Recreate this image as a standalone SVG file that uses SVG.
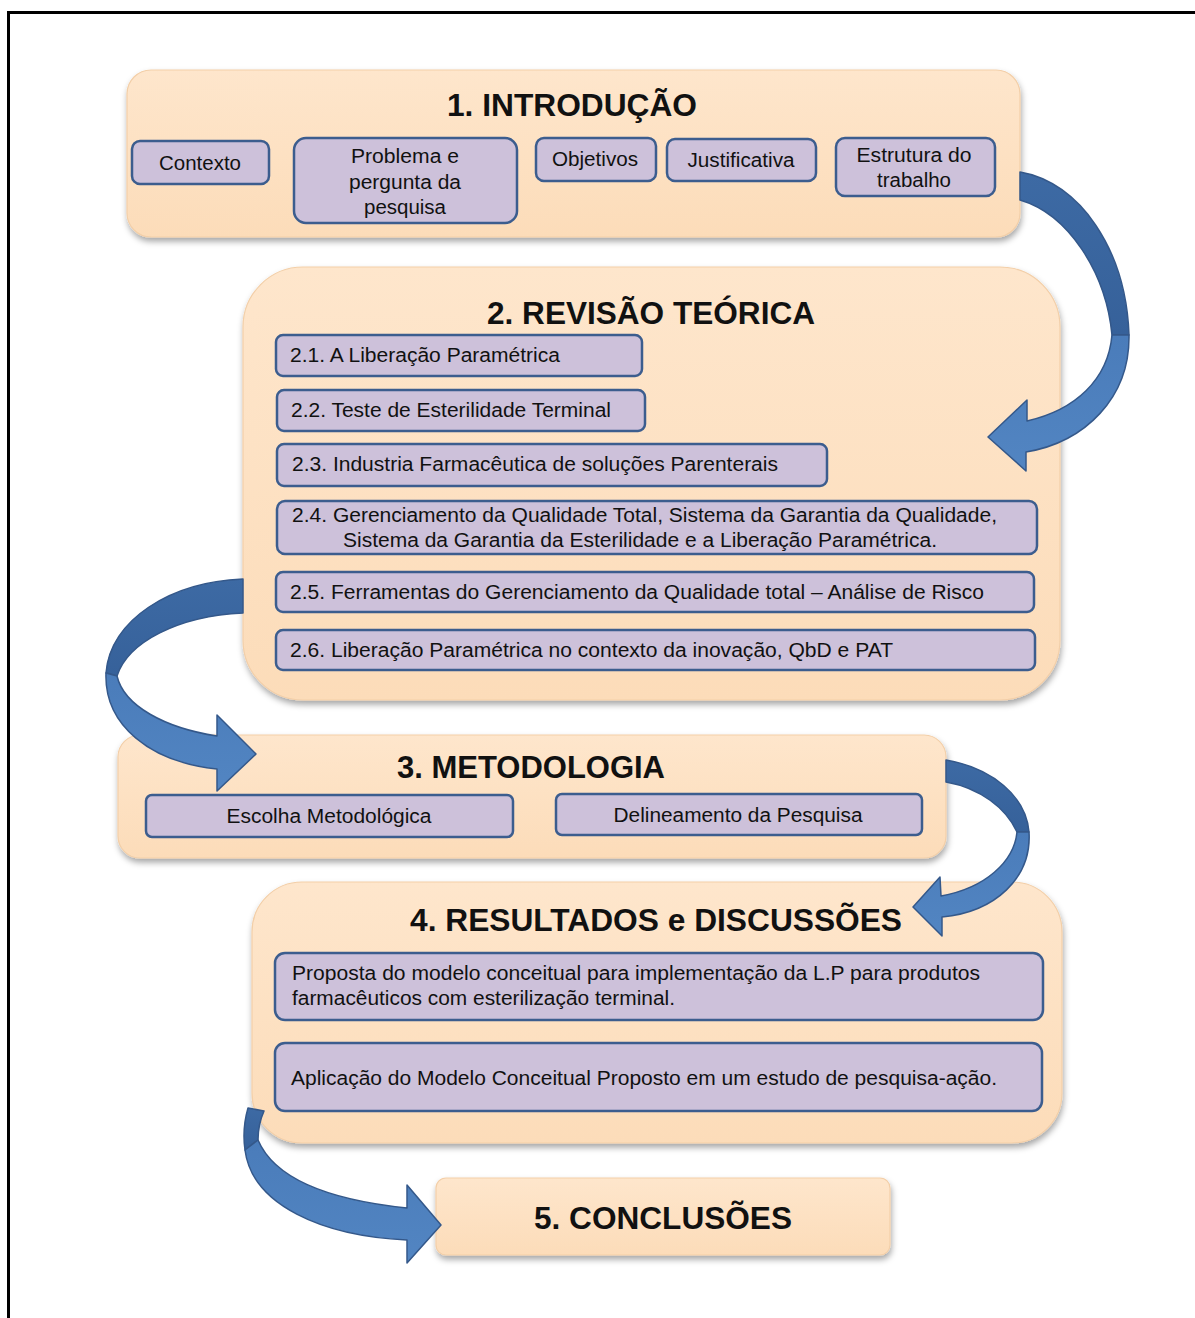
<svg xmlns="http://www.w3.org/2000/svg" width="1195" height="1318" viewBox="0 0 1195 1318">
<style>
.sec{fill:url(#peach);stroke:#f3cfa8;stroke-width:1.2;filter:url(#sh)}
.sub{fill:#cdc1da;stroke:#3c5d8e;stroke-width:2.5}
.t{font-family:"Liberation Sans",Arial,sans-serif;font-size:20px;fill:#111}
.h{font-family:"Liberation Sans",Arial,sans-serif;font-size:31px;font-weight:bold;fill:#111;text-anchor:middle}
.c{text-anchor:middle}
.dk{fill:url(#dark);stroke:#34588a;stroke-width:1.5;stroke-linejoin:round}
.lt{fill:url(#light);stroke:#34588a;stroke-width:1.5;stroke-linejoin:round}
</style>
<defs>
<linearGradient id="peach" x1="0" y1="0" x2="0" y2="1"><stop offset="0" stop-color="#fee6cc"/><stop offset="1" stop-color="#fcdcb9"/></linearGradient>
<linearGradient id="dark" x1="0" y1="0" x2="0" y2="1"><stop offset="0" stop-color="#3d6aa4"/><stop offset="1" stop-color="#36619a"/></linearGradient>
<linearGradient id="light" x1="0" y1="0" x2="0" y2="1"><stop offset="0" stop-color="#4a7cba"/><stop offset="1" stop-color="#5285c2"/></linearGradient>
<filter id="sh" x="-5%" y="-10%" width="110%" height="125%"><feDropShadow dx="1" dy="4" stdDeviation="3" flood-color="#000" flood-opacity="0.35"/></filter>
</defs>
<rect x="0" y="0" width="1195" height="1318" fill="#fff"/>
<path d="M8.5,1318 V12.5 H1195" fill="none" stroke="#000" stroke-width="3"/>

<g id="n1">
<rect class="sec" x="127" y="70" width="893" height="167" rx="24"/>
<text class="h" x="572" y="116" textLength="250" lengthAdjust="spacingAndGlyphs">1. INTRODUÇÃO</text>
<g id="n1a"><rect class="sub" x="132" y="141" width="137" height="43" rx="8"/><text class="t c" x="200" y="170" textLength="82" lengthAdjust="spacingAndGlyphs">Contexto</text></g>
<g id="n1b"><rect class="sub" x="294" y="138" width="223" height="85" rx="12"/>
<text class="t c" x="405" y="163" textLength="108" lengthAdjust="spacingAndGlyphs">Problema e</text>
<text class="t c" x="405" y="189" textLength="112" lengthAdjust="spacingAndGlyphs">pergunta da</text>
<text class="t c" x="405" y="214" textLength="82" lengthAdjust="spacingAndGlyphs">pesquisa</text></g>
<g id="n1c"><rect class="sub" x="536" y="138" width="120" height="43" rx="8"/><text class="t c" x="595" y="166" textLength="86" lengthAdjust="spacingAndGlyphs">Objetivos</text></g>
<g id="n1d"><rect class="sub" x="667" y="139" width="149" height="42" rx="8"/><text class="t c" x="741" y="167" textLength="107" lengthAdjust="spacingAndGlyphs">Justificativa</text></g>
<g id="n1e"><rect class="sub" x="836" y="138" width="159" height="58" rx="9"/>
<text class="t c" x="914" y="162" textLength="115" lengthAdjust="spacingAndGlyphs">Estrutura do</text>
<text class="t c" x="914" y="187" textLength="74" lengthAdjust="spacingAndGlyphs">trabalho</text></g>
</g>

<g id="n2">
<rect class="sec" x="243" y="267" width="817" height="433" rx="60"/>
<text class="h" x="651" y="324" textLength="328" lengthAdjust="spacingAndGlyphs">2. REVISÃO TEÓRICA</text>
<g id="n21"><rect class="sub" x="276" y="335" width="366" height="41" rx="7"/><text class="t" x="290" y="362" textLength="270" lengthAdjust="spacingAndGlyphs">2.1. A Liberação Paramétrica</text></g>
<g id="n22"><rect class="sub" x="277" y="390" width="368" height="41" rx="7"/><text class="t" x="291" y="417" textLength="320" lengthAdjust="spacingAndGlyphs">2.2. Teste de Esterilidade Terminal</text></g>
<g id="n23"><rect class="sub" x="277" y="444" width="550" height="42" rx="7"/><text class="t" x="292" y="471" textLength="486" lengthAdjust="spacingAndGlyphs">2.3. Industria Farmacêutica de soluções Parenterais</text></g>
<g id="n24"><rect class="sub" x="277" y="501" width="760" height="53" rx="8"/>
<text class="t" x="292" y="522" textLength="705" lengthAdjust="spacingAndGlyphs">2.4. Gerenciamento da Qualidade Total, Sistema da Garantia da Qualidade,</text>
<text class="t" x="343" y="547" textLength="594" lengthAdjust="spacingAndGlyphs">Sistema da Garantia da Esterilidade e a Liberação Paramétrica.</text></g>
<g id="n25"><rect class="sub" x="276" y="572" width="758" height="40" rx="7"/><text class="t" x="290" y="599" textLength="694" lengthAdjust="spacingAndGlyphs">2.5. Ferramentas do Gerenciamento da Qualidade total – Análise de Risco</text></g>
<g id="n26"><rect class="sub" x="276" y="630" width="759" height="40" rx="7"/><text class="t" x="290" y="657" textLength="603" lengthAdjust="spacingAndGlyphs">2.6. Liberação Paramétrica no contexto da inovação,  QbD e PAT</text></g>
</g>

<g id="n3">
<rect class="sec" x="118" y="735" width="828" height="123" rx="22"/>
<text class="h" x="531" y="778" textLength="268" lengthAdjust="spacingAndGlyphs">3. METODOLOGIA</text>
<g id="n3a"><rect class="sub" x="146" y="795" width="367" height="42" rx="6"/><text class="t c" x="329" y="823" textLength="205" lengthAdjust="spacingAndGlyphs">Escolha Metodológica</text></g>
<g id="n3b"><rect class="sub" x="556" y="794" width="366" height="41" rx="6"/><text class="t c" x="738" y="822" textLength="249" lengthAdjust="spacingAndGlyphs">Delineamento  da Pesquisa</text></g>
</g>

<g id="n4">
<rect class="sec" x="252" y="882" width="810" height="261" rx="50"/>
<text class="h" x="656" y="931" textLength="492" lengthAdjust="spacingAndGlyphs">4. RESULTADOS e DISCUSSÕES</text>
<g id="n4a"><rect class="sub" x="275" y="953" width="768" height="67" rx="10"/>
<text class="t" x="292" y="980" textLength="688" lengthAdjust="spacingAndGlyphs">Proposta do modelo conceitual para implementação da L.P para produtos</text>
<text class="t" x="292" y="1005" textLength="383" lengthAdjust="spacingAndGlyphs">farmacêuticos com esterilização terminal.</text></g>
<g id="n4b"><rect class="sub" x="275" y="1043" width="767" height="68" rx="10"/>
<text class="t" x="291" y="1085" textLength="706" lengthAdjust="spacingAndGlyphs">Aplicação do Modelo Conceitual  Proposto em um estudo de pesquisa-ação.</text></g>
</g>

<g id="n5">
<rect class="sec" x="436" y="1178" width="454" height="77" rx="10"/>
<text class="h" x="663" y="1229" textLength="258" lengthAdjust="spacingAndGlyphs">5. CONCLUSÕES</text>
</g>

<g id="connectors">
<g id="a1">
<path class="dk" d="M1020,172 C1080,182 1126,250 1129,335 L1112,335 C1106,272 1068,214 1020,200 Z"/>
<path class="lt" d="M1129,335 C1130,398 1085,442 1026,452 L1026,471 L988,437 L1027,400 L1027,421 C1075,410 1108,380 1112,335 Z"/>
</g>
<g id="a2">
<path class="dk" d="M243,579 C170,582 110,620 106,673 L117,676 C128,642 178,616 243,613 Z"/>
<path class="lt" d="M106,673 C104,725 150,762 217,769 L217,791 L256,754 L217,715 L217,736 C165,728 124,706 117,676 Z"/>
</g>
<g id="a3">
<path class="dk" d="M946,760 C992,768 1026,796 1029,832 L1017,832 C1006,808 980,788 946,782 Z"/>
<path class="lt" d="M1029,832 C1032,878 995,912 942,917 L942,936 L913,907 L940,877 L941,896 C985,888 1014,862 1017,832 Z"/>
</g>
<g id="a4">
<path class="dk" d="M248,1108 C244,1122 243,1136 245,1150 L258,1140 C258,1130 260,1120 264,1111 Z"/>
<path class="lt" d="M245,1150 C252,1205 322,1236 407,1240 L407,1263 L441,1225 L407,1185 L407,1208 C330,1200 275,1180 258,1140 Z"/>
</g>
</g>
</svg>
